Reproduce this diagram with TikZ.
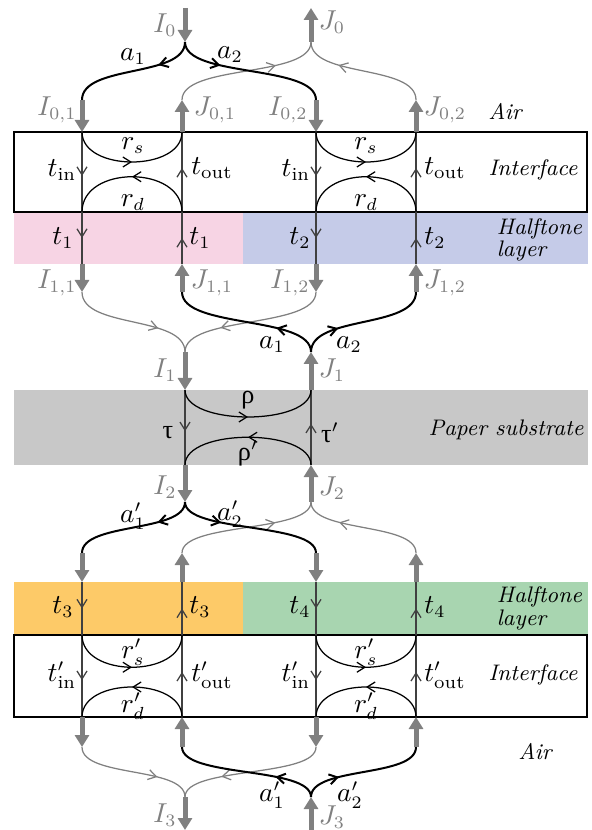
\documentclass[tikz,border=0pt]{standalone}
\usepackage{fontspec}
\usetikzlibrary{arrows.meta,decorations.markings}
\newfontfamily\greekfont{Liberation Serif}
\definecolor{pinklayer}{RGB}{247,212,228}
\definecolor{bluelayer}{RGB}{197,203,232}
\definecolor{paperlayer}{RGB}{200,200,200}
\definecolor{orangelayer}{RGB}{253,202,104}
\definecolor{greenlayer}{RGB}{168,213,176}
\definecolor{fluxgray}{RGB}{128,128,128}
\tikzset{
  flux/.style={fluxgray, line width=2pt, -{Triangle[width=5.6pt,length=4.8pt]}},
  outpath/.style={line width=0.8pt},
  inpath/.style={fluxgray, line width=0.5pt},
  inner/.style={black!75, line width=0.5pt},
  lensarc/.style={line width=0.5pt},
  flowtip/.style={postaction={decorate},
    decoration={markings, mark=at position #1 with {\arrow{Straight Barb[length=3.2pt,width=4pt]}}}},
  glabel/.style={text=fluxgray},
  layername/.style={font=\fontsize{9}{7.5}\selectfont\itshape, align=left}
}
\begin{document}
\begin{tikzpicture}[x=0.4pt, y=0.4pt, font=\fontsize{10.5}{12}\selectfont]
\useasboundingbox (0,0) rectangle (591,-830);

\foreach \col/\x in {a/82,b/182,c/316,d/416}{
  \foreach \lev/\y in {0/100,1/132,2/212,3/264,4/292,5/553,6/582,7/635,8/717,9/747}
    \coordinate (\col\lev) at (\x,-\y);
}
\foreach \lab/\x in {I/185,J/311}{
  \foreach \lev/\y in {s/8,0/42,1/352,1p/390,2p/465,2/502,3/797,e/830}
    \coordinate (\lab\lev) at (\x,-\y);
}

\fill[pinklayer] (14,-212) rectangle (243,-264);
\fill[bluelayer] (243,-212) rectangle (588,-264);
\fill[paperlayer] (14,-390) rectangle (588,-465);
\fill[orangelayer] (14,-582) rectangle (243,-635);
\fill[greenlayer] (243,-582) rectangle (588,-635);
\draw[line width=1pt] (14,-132) rectangle (587,-212);
\draw[line width=1pt] (14,-635) rectangle (587,-717);

\foreach \d/\u in {a/b,c/d}{
  \draw[inner, flowtip=0.55] (\d1) -- (\d2);
  \draw[inner, flowtip=0.5] (\d2) -- (\d3);
  \draw[inner, flowtip=0.55] (\u2) -- (\u1);
  \draw[inner, flowtip=0.5] (\u3) -- (\u2);
  \draw[lensarc, flowtip=0.5] (\d1) .. controls +(0,-40) and +(0,-40) .. (\u1);
  \draw[lensarc, flowtip=0.5] (\u2) .. controls +(0,47) and +(0,47) .. (\d2);
  \draw[inner, flowtip=0.5] (\d6) -- (\d7);
  \draw[inner, flowtip=0.55] (\d7) -- (\d8);
  \draw[inner, flowtip=0.5] (\u7) -- (\u6);
  \draw[inner, flowtip=0.55] (\u8) -- (\u7);
  \draw[lensarc, flowtip=0.5] (\d7) .. controls +(0,-43) and +(0,-43) .. (\u7);
  \draw[lensarc, flowtip=0.5] (\u8) .. controls +(0,40) and +(0,40) .. (\d8);
}
\draw[inner, flowtip=0.55] (I1p) -- (I2p);
\draw[inner, flowtip=0.55] (J2p) -- (J1p);
\draw[lensarc, flowtip=0.5] (I1p) .. controls +(0,-36) and +(0,-36) .. (J1p);
\draw[lensarc, flowtip=0.5] (J2p) .. controls +(0,37) and +(0,37) .. (I2p);

\draw[inpath, flowtip=0.7] (b0) .. controls +(0,36) and +(0,-36) .. (J0);
\draw[inpath, flowtip=0.7] (d0) .. controls +(0,36) and +(0,-36) .. (J0);
\draw[inpath, flowtip=0.7] (a4) .. controls +(0,-37) and +(0,37) .. (I1);
\draw[inpath, flowtip=0.7] (c4) .. controls +(0,-37) and +(0,37) .. (I1);
\draw[inpath, flowtip=0.7] (b5) .. controls +(0,31) and +(0,-31) .. (J2);
\draw[inpath, flowtip=0.7] (d5) .. controls +(0,31) and +(0,-31) .. (J2);
\draw[inpath, flowtip=0.7] (a9) .. controls +(0,-31) and +(0,31) .. (I3);
\draw[inpath, flowtip=0.7] (c9) .. controls +(0,-31) and +(0,31) .. (I3);

\draw[outpath, flowtip=0.3] (I0) .. controls +(0,-36) and +(0,36) .. (a0);
\draw[outpath, flowtip=0.3] (I0) .. controls +(0,-36) and +(0,36) .. (c0);
\draw[outpath, flowtip=0.3] (J1) .. controls +(0,37) and +(0,-37) .. (b4);
\draw[outpath, flowtip=0.3] (J1) .. controls +(0,37) and +(0,-37) .. (d4);
\draw[outpath, flowtip=0.3] (I2) .. controls +(0,-31) and +(0,31) .. (a5);
\draw[outpath, flowtip=0.3] (I2) .. controls +(0,-31) and +(0,31) .. (c5);
\draw[outpath, flowtip=0.3] (J3) .. controls +(0,31) and +(0,-31) .. (b9);
\draw[outpath, flowtip=0.3] (J3) .. controls +(0,31) and +(0,-31) .. (d9);

\draw[flux] (Is) -- (I0);
\draw[flux] (J0) -- (Js);
\draw[flux] (I1) -- (I1p);
\draw[flux] (J1p) -- (J1);
\draw[flux] (I2p) -- (I2);
\draw[flux] (J2) -- (J2p);
\draw[flux] (I3) -- (Ie);
\draw[flux] (Je) -- (J3);
\foreach \d/\u in {a/b,c/d}{
  \draw[flux] (\d0) -- (\d1);
  \draw[flux] (\u1) -- (\u0);
  \draw[flux] (\d3) -- (\d4);
  \draw[flux] (\u4) -- (\u3);
  \draw[flux] (\d5) -- (\d6);
  \draw[flux] (\u6) -- (\u5);
  \draw[flux] (\d8) -- (\d9);
  \draw[flux] (\u9) -- (\u8);
}

\node[glabel] (lI0) at (165,-25) {$I_0$};
\node[glabel] (lJ0) at (332,-22) {$J_0$};
\node[glabel] (lI01) at (57,-110) {$I_{0,1}$};
\node[glabel] (lJ01) at (215,-110) {$J_{0,1}$};
\node[glabel] (lI02) at (288,-110) {$I_{0,2}$};
\node[glabel] (lJ02) at (445,-110) {$J_{0,2}$};
\node[glabel] (lI11) at (57,-283) {$I_{1,1}$};
\node[glabel] (lJ11) at (212,-283) {$J_{1,1}$};
\node[glabel] (lI12) at (290,-283) {$I_{1,2}$};
\node[glabel] (lJ12) at (445,-283) {$J_{1,2}$};
\node[glabel] (lI1) at (165,-370) {$I_1$};
\node[glabel] (lJ1) at (332,-370) {$J_1$};
\node[glabel] (lI2) at (165,-487) {$I_2$};
\node[glabel] (lJ2) at (332,-488) {$J_2$};
\node[glabel] (lI3) at (165,-815) {$I_3$};
\node[glabel] (lJ3) at (332,-817) {$J_3$};

\node (la1) at (133,-57) {$a_1$};
\node (la2) at (230,-55) {$a_2$};
\node (la1m) at (272,-345) {$a_1$};
\node (la2m) at (349,-345) {$a_2$};
\node (la1p) at (133,-516) {$a'_1$};
\node (la2p) at (230,-514) {$a'_2$};
\node (la1b) at (272,-795) {$a'_1$};
\node (la2b) at (350,-795) {$a'_2$};

\node (ltin1) at (62,-170) {$t_{\mathrm{in}}$};
\node (ltout1) at (212,-168) {$t_{\mathrm{out}}$};
\node (ltin2) at (296,-170) {$t_{\mathrm{in}}$};
\node (ltout2) at (445,-168) {$t_{\mathrm{out}}$};
\node (lrs1) at (133,-146) {$r_s$};
\node (lrd1) at (133,-203) {$r_d$};
\node (lrs2) at (366,-146) {$r_s$};
\node (lrd2) at (366,-203) {$r_d$};
\node (lt1a) at (63,-238) {$t_1$};
\node (lt1b) at (200,-238) {$t_1$};
\node (lt2a) at (300,-238) {$t_2$};
\node (lt2b) at (435,-238) {$t_2$};

\node (ltau) at (168,-433) {\greekfont τ};
\node (ltaup) at (330,-433) {\greekfont τ$'$};
\node (lrho) at (248,-400) {\greekfont ρ};
\node (lrhop) at (248,-453) {\greekfont ρ$'$};

\node (lt3a) at (63,-607) {$t_3$};
\node (lt3b) at (200,-607) {$t_3$};
\node (lt4a) at (300,-607) {$t_4$};
\node (lt4b) at (435,-607) {$t_4$};
\node (ltin3) at (62,-675) {$t'_{\mathrm{in}}$};
\node (ltout3) at (212,-675) {$t'_{\mathrm{out}}$};
\node (ltin4) at (296,-675) {$t'_{\mathrm{in}}$};
\node (ltout4) at (445,-675) {$t'_{\mathrm{out}}$};
\node (lrs3) at (133,-652) {$r'_s$};
\node (lrd3) at (133,-706) {$r'_d$};
\node (lrs4) at (366,-652) {$r'_s$};
\node (lrd4) at (366,-706) {$r'_d$};

\node[layername] (air1) at (505,-112) {Air};
\node[layername] (iface1) at (533,-170) {Interface};
\node[layername, anchor=west] (half1) at (488,-240) {Halftone\\layer};
\node[layername] (paper) at (506,-430) {Paper substrate};
\node[layername, anchor=west] (half2) at (488,-608) {Halftone\\layer};
\node[layername] (iface2) at (533,-675) {Interface};
\node[layername] (air2) at (535,-752) {Air};
\end{tikzpicture}
\end{document}
